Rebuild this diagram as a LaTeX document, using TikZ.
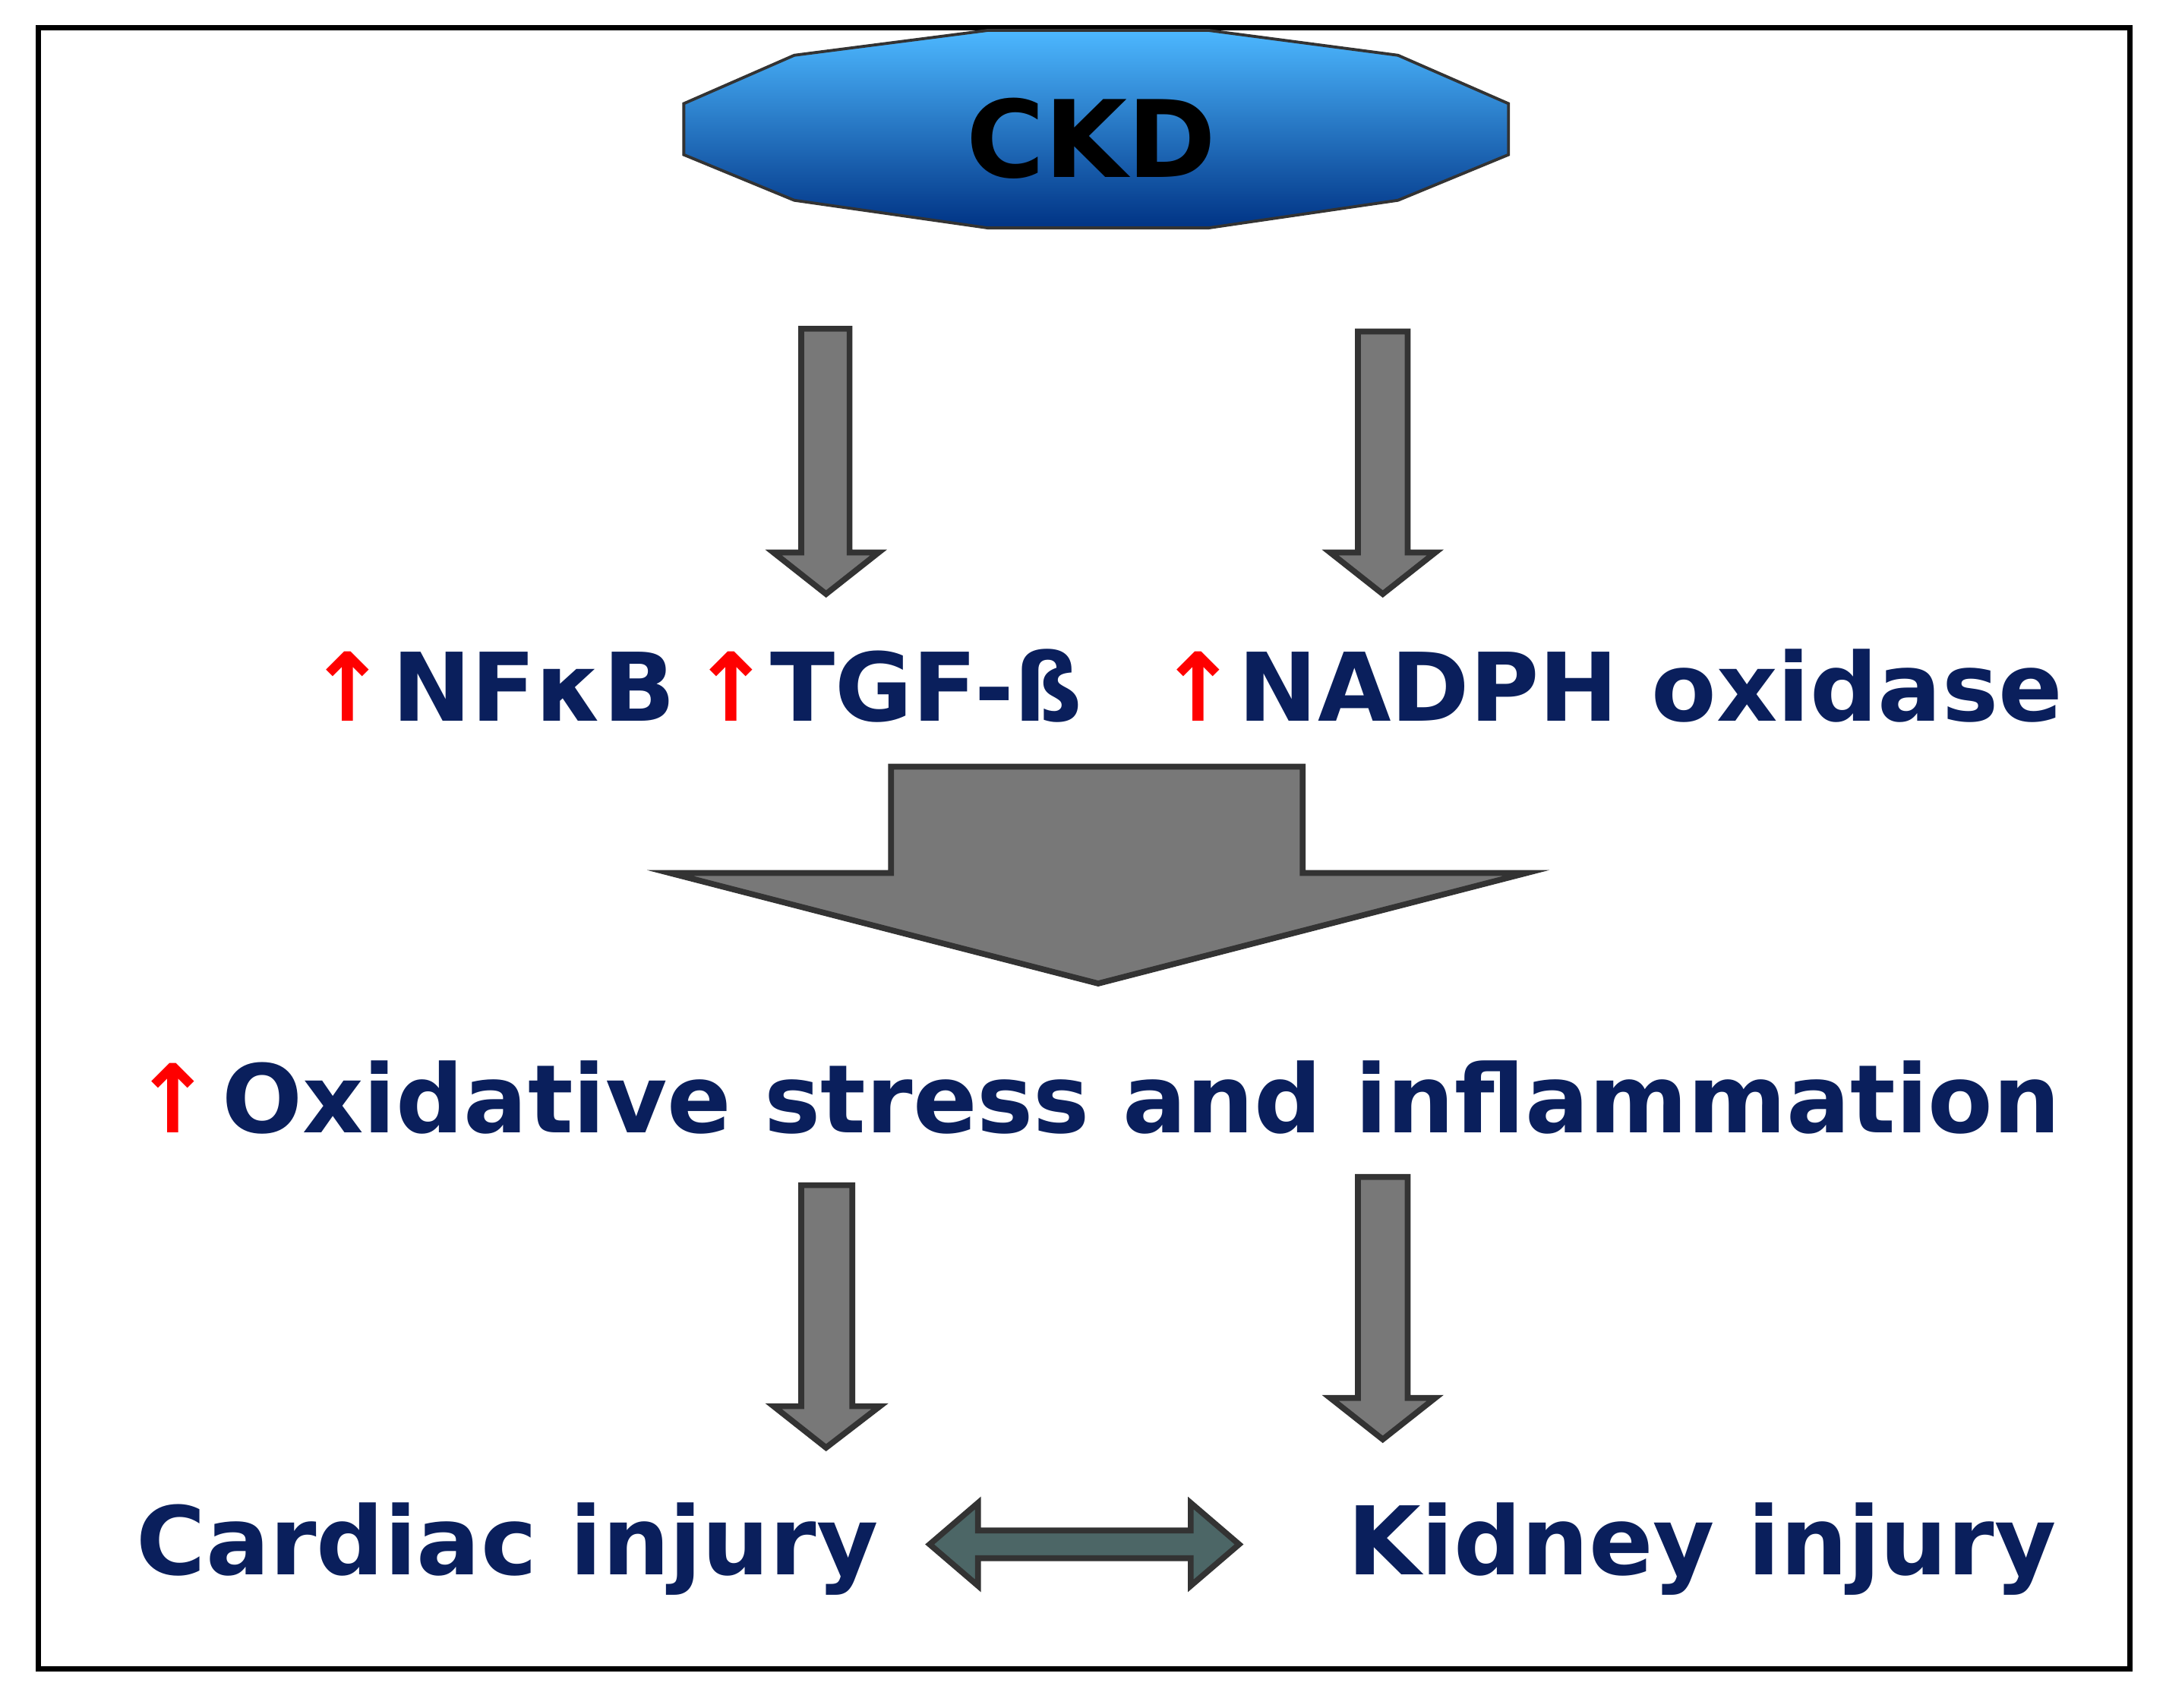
\documentclass[tikz,border=0pt]{standalone}
\usepackage{fontspec}
\setmainfont{DejaVu Sans}
\begin{document}
\begin{tikzpicture}[x=0.01cm,y=-0.01cm]
\definecolor{navy}{HTML}{0A1F5C}
\definecolor{agray}{HTML}{787878}
\definecolor{adark}{HTML}{333333}
\tikzset{
 blk/.style={fill=agray,draw=adark,line width=1.2pt,line join=miter},
 lbl/.style={text=navy,font=\bfseries\fontsize{19.5}{22}\selectfont,anchor=base west,inner sep=0},
 up/.style={text=red,font=\bfseries\fontsize{19.5}{22}\selectfont,anchor=base west,inner sep=0}
}
\useasboundingbox (0,0) rectangle (1568,1236);
\draw[line width=1.1pt] (28,20) rectangle (1542,1208);
% CKD
\shade[top color=cyan!60!blue!70!white,bottom color=blue!40!black!80!cyan,draw=adark,line width=0.6pt]
 (495,75)--(575,40)--(715,22)--(875,22)--(1012,40)--(1092,75)--(1092,112)--(1012,145)--(875,165)--(715,165)--(575,145)--(495,112)--cycle;
\node[font=\bfseries\fontsize{22}{24}\selectfont] (ckd) at (790,100) {CKD};
% arrows upper
\draw[blk] (580,238)--(615,238)--(615,400)--(636,400)--(598,430)--(560,400)--(580,400)--cycle;
\draw[blk] (983,240)--(1019,240)--(1019,400)--(1039,400)--(1001,430)--(963,400)--(983,400)--cycle;
% labels
\node[up] (u1) at (222,522) {↑};
\node[lbl] (nf) at (283,522) {NFκB};
\node[up] (u2) at (500,522) {↑};
\node[lbl] (tgf) at (557,522) {TGF-ß};
\node[up] (u3) at (838,522) {↑};
\node[lbl] (nadph) at (896,522) {NADPH oxidase};
% big arrow
\draw[blk] (645,555)--(943,555)--(943,632)--(1105,632)--(795,712)--(485,632)--(645,632)--cycle;
\node[up] (u4) at (96,820) {↑};
\node[lbl] (ox) at (160,820) {Oxidative stress and inflammation};
% lower arrows
\draw[blk] (580,858)--(617,858)--(617,1018)--(637,1018)--(598,1048)--(560,1018)--(580,1018)--cycle;
\draw[blk] (983,852)--(1019,852)--(1019,1012)--(1039,1012)--(1001,1042)--(963,1012)--(983,1012)--cycle;
\node[lbl] (card) at (98,1140) {Cardiac injury};
\node[lbl] (kid) at (975,1140) {Kidney injury};
\draw[fill=black!50!teal!40!gray,draw=adark,line width=1.2pt]
 (673,1118)--(708,1088)--(708,1108)--(862,1108)--(862,1088)--(897,1118)--(862,1148)--(862,1128)--(708,1128)--(708,1148)--cycle;
\end{tikzpicture}
\end{document}
